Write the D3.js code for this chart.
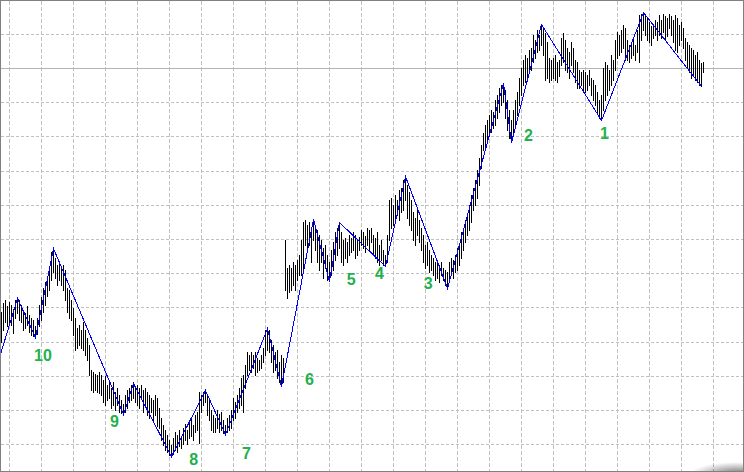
<!DOCTYPE html>
<html><head><meta charset="utf-8">
<script src="https://cdn.jsdelivr.net/npm/d3@7"></script>
<style>html,body{margin:0;padding:0;background:#fff;overflow:hidden}</style>
</head><body><svg id="c" width="744" height="472"></svg>
<script>
// ---- data (price units) ----
const highs = [
688,697,700,694,698,695,691,700,702,700,
695,690,687,694,685,682,680,674,682,695,
703,712,718,722,734,748,752,742,735,738,
732,735,730,712,710,700,692,682,672,675,
670,678,670,662,655,630,628,626,625,628,
625,620,624,615,620,612,618,608,612,605,
600,596,605,610,612,615,617,614,615,612,
615,610,612,608,605,602,600,605,602,592,
582,575,570,565,560,555,562,568,565,570,
564,572,576,570,578,582,575,585,588,608,
605,608,610,605,600,590,585,582,590,586,
588,580,575,582,585,590,602,598,605,612,
622,625,635,648,645,648,645,648,642,640,
645,652,670,672,670,660,655,648,650,638,
645,642,760,732,735,732,738,735,740,745,
760,778,780,775,778,772,781,775,770,765,
760,752,755,745,738,750,758,768,772,778,
768,760,762,758,765,762,768,765,760,763,
770,768,764,772,770,772,765,762,768,755,
760,750,745,765,800,802,795,805,800,810,
812,820,824,815,808,800,788,782,790,780,
772,765,755,758,750,745,742,738,740,735,
738,732,730,728,738,742,740,745,752,755,
768,772,780,785,795,805,812,820,830,842,
855,867,875,880,885,890,888,900,905,912,
915,917,910,900,890,880,890,900,908,922,
932,940,945,942,950,952,965,960,970,965,
976,972,967,958,942,940,942,945,938,940,
962,967,960,952,948,958,952,940,938,930,
928,930,928,925,930,922,920,915,908,900,
905,932,938,935,930,945,940,960,968,965,
970,975,972,960,955,958,962,955,970,985,
986,988,986,982,978,974,976,980,978,985,
980,986,984,982,986,984,980,985,982,975,
978,972,962,958,955,952,950,945,948,940,
937,938];
const lows = [
658,670,678,674,678,675,667,682,687,680,
678,670,672,675,668,665,664,663,666,674,
680,688,695,704,710,720,728,722,715,720,
715,710,700,688,682,680,665,650,652,655,
652,650,645,640,625,610,608,610,608,607,
605,598,595,600,602,592,595,590,595,588,
587,586,588,592,598,600,602,598,595,592,
602,588,594,585,582,588,580,585,574,572,
560,555,550,548,545,544,546,550,548,554,
552,556,560,556,562,564,560,568,570,557,
588,595,598,585,580,570,568,568,572,568,
570,567,566,568,570,572,580,582,588,592,
595,588,612,625,630,628,632,625,628,630,
632,638,645,650,648,638,628,630,622,618,
614,618,710,702,708,710,715,710,720,725,
725,732,755,748,755,738,760,750,738,730,
738,722,732,720,719,725,730,740,745,752,
738,735,742,738,745,748,750,742,745,750,
755,752,748,755,750,758,745,742,738,735,
740,735,734,738,760,772,775,778,785,780,
788,790,800,782,775,770,760,755,765,758,
750,738,732,735,728,730,725,720,722,718,
725,720,715,712,720,725,722,728,730,735,
742,750,758,765,770,778,790,795,802,815,
832,850,852,860,865,868,872,875,882,888,
895,898,882,870,862,858,865,872,885,895,
905,915,918,922,928,930,938,942,948,950,
955,945,920,922,918,920,922,920,918,924,
935,938,930,928,922,935,928,918,912,912,
915,910,908,910,915,905,900,895,888,882,
880,890,900,905,910,915,920,930,942,945,
948,952,940,940,938,942,945,940,948,938,
960,970,965,960,958,955,962,965,960,965,
962,968,960,964,972,965,958,950,948,955,
960,952,940,932,928,922,925,920,918,915,
914,928];

// zigzag pivots (bar index, price)
const pivotIdx   = [-1, 8, 17, 26, 61, 66, 85, 102, 112, 133, 140, 156, 164, 169, 192, 202, 223, 251, 255, 270, 300, 321, 350];
const pivotPrice = [643,702,663,752,586,617,544,610,566,672,614,781,719,778,734,824,712,917,858,976,880,988,914];

// wave labels
const labelText  = ["10","9","8","7","6","5","4","3","2","1"];
const labelIdx   = [20.75, 56.5, 96.15, 122.5, 154, 174.85, 189, 213.35, 263.5, 301.5];
const labelPrice = [645, 579, 541, 547, 621, 721, 727, 717, 865, 867];

// grid
const timeGrid  = [4,20,36,52,68,84,100,116,132,148,164,180,196,212,228,244,260,276,292,308,324,340,356];
const priceGrid = [966,931.8,897.7,863.5,829.3,795.2,761,726.8,692.7,658.5,624.3,590.2,556];
const levelLine = 931.8;

// ---- drawing ----
const W = 744, H = 472;
const x = d3.scaleLinear().domain([0, 371]).range([1.5, 743.5]);
const y = d3.scaleLinear().domain([528, 1000]).range([472, 0]);
const svg = d3.select('#c');
svg.append('rect').attr('width', W).attr('height', H).attr('fill', '#fff');

const grid = svg.append('g').attr('shape-rendering', 'crispEdges');
grid.selectAll('line.v').data(timeGrid).join('line').attr('class','v')
  .attr('x1', d => Math.floor(x(d)) + 0.5).attr('x2', d => Math.floor(x(d)) + 0.5)
  .attr('y1', 1).attr('y2', H - 1)
  .attr('stroke', '#c0c0c0').attr('stroke-dasharray', '4,2');
grid.selectAll('line.h').data(priceGrid.filter(p => p !== levelLine)).join('line').attr('class','h')
  .attr('y1', d => Math.round(y(d)) + 0.5).attr('y2', d => Math.round(y(d)) + 0.5)
  .attr('x1', 1).attr('x2', W - 1)
  .attr('stroke', '#c0c0c0').attr('stroke-dasharray', '3,2');
grid.append('line')
  .attr('y1', Math.round(y(levelLine)) + 0.5).attr('y2', Math.round(y(levelLine)) + 0.5)
  .attr('x1', 1).attr('x2', W - 1).attr('stroke', '#b4b4b4');

const bars = highs.map((h, i) => ({i, h, l: lows[i]}));
svg.append('g').attr('shape-rendering', 'crispEdges')
  .selectAll('rect').data(bars).join('rect')
  .attr('x', d => Math.floor(x(d.i)))
  .attr('y', d => Math.round(y(d.h)))
  .attr('width', 1)
  .attr('height', d => Math.round(y(d.l)) - Math.round(y(d.h)) + 1)
  .attr('fill', '#000');

const piv = pivotIdx.map((p, k) => ({i: p, p: pivotPrice[k]}));
svg.append('path').datum(piv)
  .attr('d', d3.line().x(d => x(d.i)).y(d => y(d.p) + 0.5))
  .attr('fill', 'none').attr('stroke', '#0000ff').attr('stroke-width', 1)
  .attr('shape-rendering', 'crispEdges');

svg.append('g').selectAll('text').data(labelText).join('text')
  .attr('x', (d, k) => x(labelIdx[k]))
  .attr('y', (d, k) => y(labelPrice[k]) + 6)
  .attr('text-anchor', 'middle')
  .attr('font-family', '"Liberation Sans", Arial, sans-serif')
  .attr('font-weight', 'bold').attr('font-size', 16)
  .attr('fill', '#22b14c')
  .text(d => d);

// frame + corner shadow
const defs = svg.append('defs');
const rg = defs.append('radialGradient').attr('id', 'sh');
rg.append('stop').attr('offset', '0%').attr('stop-color', '#000').attr('stop-opacity', 0.55);
rg.append('stop').attr('offset', '100%').attr('stop-color', '#000').attr('stop-opacity', 0);
svg.append('ellipse').attr('cx', 738).attr('cy', 474).attr('rx', 48).attr('ry', 12).attr('fill', 'url(#sh)');
svg.append('rect').attr('x', 0.5).attr('y', 0.5).attr('width', 743).attr('height', 471)
  .attr('fill', 'none').attr('stroke', '#808080').attr('shape-rendering', 'crispEdges');
</script></body></html>
